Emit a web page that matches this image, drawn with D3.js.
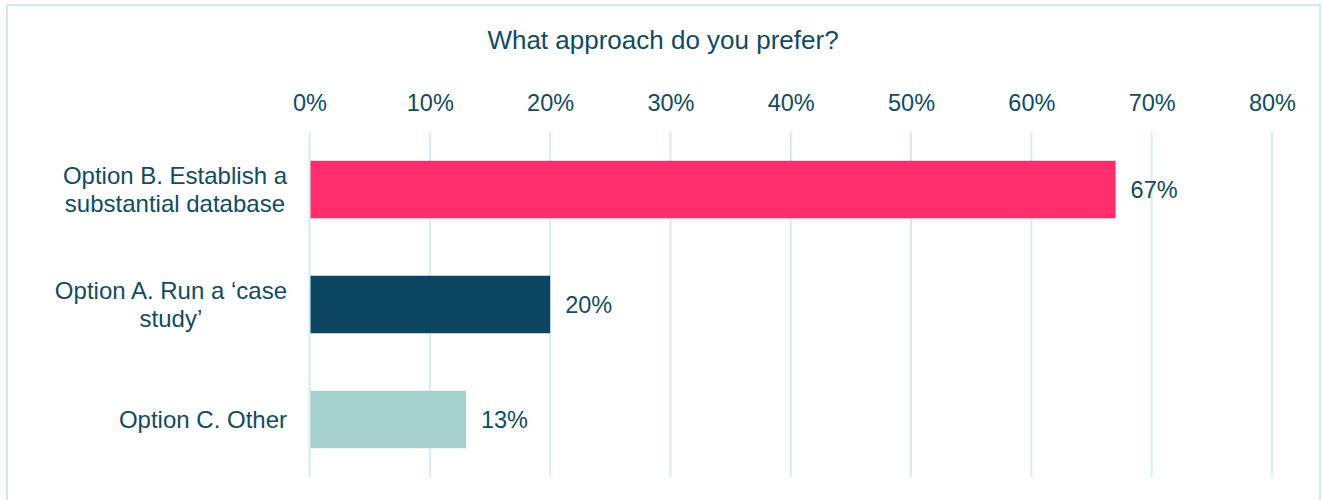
<!DOCTYPE html>
<html>
<head>
<meta charset="utf-8">
<script src="https://cdn.jsdelivr.net/npm/d3@7"></script>
<style>
  body { margin: 0; background: #fff; }
  text { font-family: "Liberation Sans", Arial, sans-serif; fill: #134a5e; }
</style>
</head>
<body>
<svg id="draw"></svg>
<script>
// data
const categories = ["Option B. Establish a substantial database", "Option A. Run a \u2018case study\u2019", "Option C. Other"];
const labelLines = [["Option B. Establish a", "substantial database"], ["Option A. Run a \u2018case", "study\u2019"], ["Option C. Other"]];
const values = [0.67, 0.20, 0.13];
const barColors = ["#ff2d6c", "#0c4560", "#a6d0ce"];
const tickValues = [0, 0.1, 0.2, 0.3, 0.4, 0.5, 0.6, 0.7, 0.8];

const width = 1323;
const height = 500;
const margin = {top: 132, right: 51, bottom: 23, left: 309.5};

var svg = d3.select("#draw")
  .attr("width", width)
  .attr("height", height);

// outer frame (no bottom edge visible)
svg.append("path")
  .attr("d", "M7,500 V5 H1320 V500")
  .attr("fill", "none")
  .attr("stroke", "#cfeaf7")
  .attr("stroke-width", 2);

var x = d3.scaleLinear()
  .domain([0, 0.8])
  .range([margin.left, width - margin.right]);

var y = d3.scaleBand()
  .domain(categories)
  .range([margin.top, height - margin.bottom])
  .paddingInner(0.5)
  .paddingOuter(0.25);

var fmt = d3.format(".0%");

// title
svg.append("text")
  .attr("x", 663)
  .attr("y", 49)
  .attr("text-anchor", "middle")
  .style("font-size", "26px")
  .text("What approach do you prefer?");

// gridlines
svg.append("g")
  .selectAll("line")
  .data(tickValues)
  .enter().append("line")
  .attr("x1", d => x(d))
  .attr("x2", d => x(d))
  .attr("y1", margin.top)
  .attr("y2", height - margin.bottom)
  .attr("stroke", "#d3ecf8")
  .attr("stroke-width", 2);

// top axis labels
var axis = svg.append("g")
  .attr("transform", "translate(0," + (margin.top - 21) + ")")
  .call(d3.axisTop(x).tickValues(tickValues).tickFormat(fmt).tickSize(0).tickPadding(0));
axis.select(".domain").remove();
axis.selectAll("text")
  .attr("dy", 0)
  .style("font-size", "23.5px")
  .style("font-family", "'Liberation Sans', Arial, sans-serif")
  .attr("fill", "#134a5e");

// bars
svg.append("g")
  .selectAll("rect")
  .data(values)
  .enter().append("rect")
  .attr("x", x(0) + 1)
  .attr("y", (d, i) => y(categories[i]))
  .attr("width", d => x(d) - x(0) - 1)
  .attr("height", y.bandwidth())
  .attr("fill", (d, i) => barColors[i]);

// value labels
svg.append("g")
  .selectAll("text")
  .data(values)
  .enter().append("text")
  .attr("x", d => x(d) + 15)
  .attr("y", (d, i) => y(categories[i]) + y.bandwidth() / 2)
  .attr("dy", "0.35em")
  .style("font-size", "23.5px")
  .text(d => fmt(d));

// category labels: lines centred, block right-aligned
var labelRight = 287;
var lineHeight = 28;
var cat = svg.append("g")
  .selectAll("text")
  .data(labelLines)
  .enter().append("text")
  .style("font-size", "24px")
  .attr("text-anchor", "middle");

cat.each(function(lines, i) {
  var t = d3.select(this);
  var cy = y(categories[i]) + y.bandwidth() / 2;
  var startY = cy - (lines.length - 1) * lineHeight / 2;
  lines.forEach(function(l, j) {
    t.append("tspan").attr("y", startY + j * lineHeight).attr("dy", "0.35em").text(l);
  });
  var maxW = 0;
  t.selectAll("tspan").each(function() {
    maxW = Math.max(maxW, this.getComputedTextLength());
  });
  t.selectAll("tspan").attr("x", labelRight - maxW / 2);
});
</script>
</body>
</html>
